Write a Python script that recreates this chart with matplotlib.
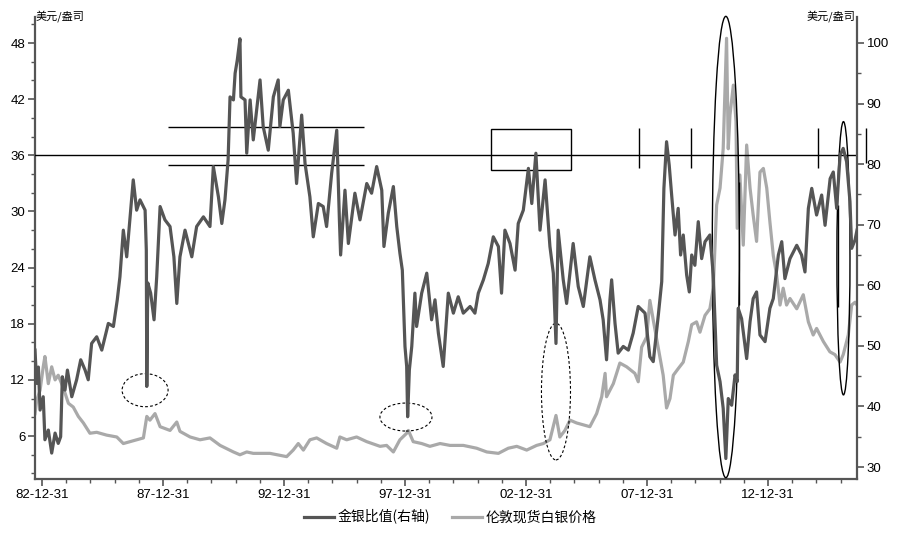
import matplotlib
matplotlib.use("Agg")
import matplotlib.pyplot as plt
from matplotlib.patches import Ellipse, Rectangle
from matplotlib.ticker import MultipleLocator, FixedLocator

plt.rcParams['font.family'] = ['Noto Sans CJK SC', 'DejaVu Sans']

# gold/silver ratio (right axis), decimal year
ratio_t = [1982.71, 1982.78, 1982.85, 1982.92, 1983.05, 1983.12, 1983.26, 1983.40, 1983.54, 1983.67,
           1983.77, 1983.84, 1983.95, 1984.05, 1984.23, 1984.43, 1984.60, 1984.78, 1984.91, 1985.05,
           1985.26, 1985.47, 1985.74, 1985.95, 1986.11, 1986.22, 1986.36, 1986.50, 1986.64, 1986.77,
           1986.91, 1987.05, 1987.26, 1987.31, 1987.33, 1987.37, 1987.49, 1987.63, 1987.74, 1987.88,
           1988.08, 1988.29, 1988.45, 1988.57, 1988.70, 1988.91, 1989.19, 1989.39, 1989.67, 1989.94,
           1990.08, 1990.29, 1990.43, 1990.56, 1990.69, 1990.77, 1990.91, 1990.98, 1991.07, 1991.18,
           1991.22, 1991.39, 1991.46, 1991.60, 1991.73, 1991.87, 1992.01, 1992.14, 1992.35, 1992.56,
           1992.76, 1992.83, 1992.97, 1993.18, 1993.38, 1993.52, 1993.73, 1993.87, 1994.07, 1994.21,
           1994.42, 1994.62, 1994.76, 1994.97, 1995.18, 1995.29, 1995.34, 1995.52, 1995.66, 1995.93,
           1996.14, 1996.42, 1996.62, 1996.83, 1997.04, 1997.13, 1997.31, 1997.52, 1997.66, 1997.79,
           1997.89, 1998.00, 1998.07, 1998.11, 1998.18, 1998.28, 1998.41, 1998.48, 1998.69, 1998.90,
           1999.10, 1999.24, 1999.38, 1999.58, 1999.79, 2000.00, 2000.20, 2000.41, 2000.69, 2000.89,
           2001.03, 2001.24, 2001.44, 2001.65, 2001.86, 2001.99, 2002.13, 2002.34, 2002.55, 2002.68,
           2002.89, 2003.10, 2003.24, 2003.41, 2003.58, 2003.79, 2003.99, 2004.13, 2004.24, 2004.33,
           2004.54, 2004.68, 2004.95, 2005.16, 2005.37, 2005.64, 2005.85, 2006.06, 2006.19, 2006.33,
           2006.47, 2006.54, 2006.68, 2006.81, 2007.02, 2007.23, 2007.43, 2007.64, 2007.92, 2008.12,
           2008.26, 2008.47, 2008.61, 2008.70, 2008.81, 2008.92, 2009.02, 2009.16, 2009.29, 2009.39,
           2009.50, 2009.64, 2009.75, 2009.85, 2009.98, 2010.12, 2010.26, 2010.40, 2010.60, 2010.74,
           2010.88, 2011.02, 2011.15, 2011.26, 2011.36, 2011.50, 2011.64, 2011.73, 2011.77, 2011.91,
           2012.12, 2012.26, 2012.39, 2012.53, 2012.67, 2012.88, 2013.08, 2013.22, 2013.43, 2013.57,
           2013.70, 2013.91, 2014.19, 2014.39, 2014.53, 2014.67, 2014.81, 2015.01, 2015.22, 2015.36,
           2015.57, 2015.70, 2015.84, 2015.98, 2016.11, 2016.25, 2016.39, 2016.46, 2016.60, 2016.68]
ratio_v = [49.3, 43.8, 46.5, 39.4, 41.6, 34.5, 36.1, 32.3, 35.6, 33.9,
           35.0, 44.9, 42.7, 46.0, 41.6, 44.4, 47.7, 46.0, 44.4, 50.4,
           51.5, 49.3, 53.7, 53.2, 57.6, 61.4, 69.1, 64.7, 71.3, 77.4,
           72.4, 74.1, 72.4, 65.8, 43.3, 60.4, 58.7, 54.3, 61.4, 73.0,
           70.8, 69.7, 64.7, 57.0, 64.7, 69.1, 64.7, 69.7, 71.3, 69.7,
           79.6, 74.6, 70.2, 74.1, 80.7, 91.1, 90.6, 95.0, 97.2, 100.7,
           91.1, 90.6, 81.8, 90.6, 84.0, 88.9, 93.9, 86.2, 82.3, 91.1,
           93.9, 86.2, 90.6, 92.2, 85.1, 76.8, 88.1, 80.1, 74.6, 68.0,
           73.5, 73.0, 69.7, 78.5, 85.6, 70.8, 65.0, 75.7, 66.9, 75.2,
           70.8, 76.8, 75.2, 79.6, 75.7, 66.4, 71.9, 76.3, 69.7, 65.3,
           62.5, 49.9, 46.6, 38.3, 46.0, 49.9, 58.7, 53.2, 58.7, 62.0,
           54.3, 57.6, 52.1, 46.6, 58.7, 55.4, 58.1, 55.4, 56.5, 55.4,
           58.7, 60.9, 63.6, 68.0, 66.4, 58.7, 69.1, 66.9, 62.5, 70.2,
           72.4, 79.3, 73.5, 81.8, 69.1, 77.4, 66.4, 62.0, 50.4, 69.1,
           60.9, 57.0, 66.9, 59.8, 56.5, 64.7, 60.9, 57.6, 54.3, 47.7,
           57.6, 60.9, 53.7, 48.8, 49.9, 49.3, 52.1, 56.5, 55.4, 48.2,
           47.4, 55.1, 60.6, 76.0, 83.7, 79.8, 74.9, 68.3, 72.7, 65.0,
           68.3, 61.7, 58.9, 65.0, 63.3, 70.5, 64.4, 67.2, 68.3, 61.7,
           46.8, 44.1, 39.7, 31.4, 41.3, 40.2, 45.2, 44.1, 56.2, 54.5,
           47.9, 54.0, 57.8, 58.9, 51.8, 50.7, 56.2, 57.8, 65.0, 67.2,
           61.1, 64.4, 66.6, 65.0, 62.2, 72.7, 76.0, 71.6, 74.9, 69.9,
           77.6, 78.7, 72.7, 81.5, 82.6, 80.4, 73.8, 66.1, 67.5, 69.1]

# London spot silver, USD/oz (left axis)
silver_t = [1982.71, 1982.78, 1982.92, 1983.05, 1983.12, 1983.26, 1983.40, 1983.54, 1983.67, 1983.81,
            1983.95, 1984.09, 1984.29, 1984.50, 1984.71, 1984.98, 1985.26, 1985.67, 1986.09, 1986.36,
            1986.64, 1987.19, 1987.33, 1987.46, 1987.67, 1987.88, 1988.29, 1988.57, 1988.70, 1989.12,
            1989.53, 1989.94, 1990.36, 1990.91, 1991.18, 1991.46, 1991.73, 1992.42, 1993.11, 1993.38,
            1993.59, 1993.80, 1994.07, 1994.35, 1994.76, 1995.18, 1995.31, 1995.59, 1996.00, 1996.42,
            1996.97, 1997.24, 1997.52, 1997.79, 1998.07, 1998.14, 1998.34, 1998.69, 1999.03, 1999.45,
            1999.86, 2000.41, 2000.96, 2001.38, 2001.86, 2002.27, 2002.62, 2003.03, 2003.44, 2003.72,
            2003.99, 2004.24, 2004.40, 2004.61, 2004.82, 2005.09, 2005.37, 2005.64, 2005.92, 2006.13,
            2006.27, 2006.33, 2006.61, 2006.88, 2007.16, 2007.50, 2007.64, 2007.78, 2007.99, 2008.12,
            2008.26, 2008.47, 2008.67, 2008.81, 2008.95, 2009.09, 2009.29, 2009.50, 2009.71, 2009.85,
            2010.05, 2010.19, 2010.40, 2010.60, 2010.74, 2010.88, 2011.02, 2011.15, 2011.29, 2011.36,
            2011.43, 2011.57, 2011.68, 2011.73, 2011.84, 2011.98, 2012.12, 2012.26, 2012.39, 2012.53,
            2012.67, 2012.81, 2012.95, 2013.08, 2013.22, 2013.36, 2013.50, 2013.63, 2013.77, 2013.91,
            2014.19, 2014.46, 2014.67, 2014.87, 2015.01, 2015.29, 2015.56, 2015.77, 2015.98, 2016.11,
            2016.32, 2016.46, 2016.60, 2016.68]
silver_v = [8.4, 9.8, 10.9, 13.4, 14.5, 11.6, 13.4, 12.0, 12.5, 11.6,
            10.6, 9.5, 9.1, 8.1, 7.4, 6.3, 6.4, 6.1, 5.9, 5.2,
            5.4, 5.8, 8.1, 7.7, 8.4, 7.0, 6.6, 7.5, 6.5, 5.9,
            5.6, 5.8, 5.0, 4.3, 4.0, 4.3, 4.15, 4.15, 3.8, 4.5,
            5.2, 4.5, 5.6, 5.8, 5.2, 4.7, 5.9, 5.6, 5.9, 5.4,
            4.9, 5.0, 4.3, 5.6, 6.3, 6.6, 5.4, 5.2, 4.9, 5.2,
            5.0, 5.0, 4.7, 4.3, 4.15, 4.7, 4.9, 4.5, 5.0, 5.2,
            5.6, 8.2, 5.9, 6.6, 7.7, 7.4, 7.2, 7.0, 8.4, 10.2,
            12.7, 10.2, 11.6, 13.8, 13.4, 12.7, 11.8, 15.5, 16.6, 20.5,
            18.4, 15.4, 12.5, 9.0, 10.0, 12.5, 13.2, 13.9, 16.1, 17.9,
            18.2, 17.1, 18.9, 19.6, 21.8, 30.7, 32.5, 36.7, 48.5, 36.7,
            40.3, 43.5, 39.6, 28.2, 33.9, 26.4, 37.1, 32.5, 29.6, 26.8,
            34.2, 34.6, 32.5, 28.9, 25.3, 23.2, 20.0, 21.8, 20.0, 20.7,
            19.6, 21.1, 18.2, 16.8, 17.5, 16.1, 15.0, 14.7, 13.9, 14.7,
            16.8, 20.0, 20.3, 20.0]

major_years = [1983, 1988, 1993, 1998, 2003, 2008, 2013]
major_labels = ["82-12-31", "87-12-31", "92-12-31", "97-12-31", "02-12-31", "07-12-31", "12-12-31"]
left_ticks = [6, 12, 18, 24, 30, 36, 42, 48]
right_ticks = [30, 40, 50, 60, 70, 80, 90, 100]

dark = "#555555"
light = "#a9a9a9"
spine_c = "#555555"
tick_font = dict(family=['Liberation Sans', 'DejaVu Sans'], size=9.5)

fig = plt.figure(figsize=(9, 5.35), dpi=100)
ax1 = fig.add_axes([35/900, 1-479/535, (857-35)/900, (479-17)/535])
ax2 = ax1.twinx()

l1, = ax1.plot(silver_t, silver_v, color=light, lw=2.3, label="伦敦现货白银价格")
l2, = ax2.plot(ratio_t, ratio_v, color=dark, lw=2.3, label="金银比值(右轴)")

ax1.set_xlim(1982.71, 2016.68)
ax1.set_ylim(1.41, 50.78)
ax2.set_ylim(28.02, 104.29)

ax1.xaxis.set_major_locator(FixedLocator(major_years))
ax1.set_xticklabels(major_labels, **tick_font)
ax1.xaxis.set_minor_locator(MultipleLocator(1))
ax1.set_yticks(left_ticks)
ax1.set_yticklabels([str(v) for v in left_ticks], **tick_font)
ax1.yaxis.set_minor_locator(MultipleLocator(2))
ax2.set_yticks(right_ticks)
ax2.set_yticklabels([str(v) for v in right_ticks], **tick_font)
ax2.yaxis.set_minor_locator(MultipleLocator(5))

for ax in (ax1, ax2):
    ax.spines['top'].set_visible(False)
    for s in ('left', 'right', 'bottom'):
        ax.spines[s].set_color(spine_c)
        ax.spines[s].set_linewidth(1.6)
    ax.tick_params(which='major', length=5, width=1.2, color=spine_c, pad=2)
    ax.tick_params(which='minor', length=3, width=1.0, color=spine_c)
ax1.spines['right'].set_visible(False)
ax2.spines['left'].set_visible(False)
ax2.spines['bottom'].set_visible(False)

# annotation marks (in silver-axis coordinates)
k = dict(color="black", lw=1.0, zorder=5)
ax1.axhline(36, **k)
ax1.hlines([39, 35], 1988.2, 1996.3, **k)
ax1.add_patch(Rectangle((2001.55, 34.4), 3.31, 4.4, fill=False, ec="black", lw=1.0, zorder=5))
ax1.vlines([2007.67, 2009.82, 2015.07], 34.6, 38.9, **k)
ax1.vlines(2017.05, 35.2, 38.9, clip_on=False, **k)
ax1.vlines(2015.89, 19.8, 30.7, **k)
ax1.vlines(2011.80, 20.0, 33.1, **k)

dash = dict(fill=False, ec="black", lw=0.8, ls=(0, (2.5, 2)), zorder=5)
ax1.add_patch(Ellipse((1987.26, 10.9), 1.90, 3.53, **dash))
ax1.add_patch(Ellipse((1998.04, 8.03), 2.15, 2.99, **dash))
ax1.add_patch(Ellipse((2004.24, 10.75), 1.20, 14.6, **dash))
solid = dict(fill=False, ec="black", lw=1.0, zorder=5, clip_on=False)
ax1.add_patch(Ellipse((2011.26, 26.2), 1.12, 49.3, **solid))
ax1.add_patch(Ellipse((2016.12, 25.0), 0.54, 29.2, **solid))

fig.text(36/900, 1-16/535, "美元/盎司", fontsize=8, va='center', ha='left')
fig.text(855/900, 1-16/535, "美元/盎司", fontsize=8, va='center', ha='right')

fig.legend([l2, l1], [l2.get_label(), l1.get_label()], loc='center', bbox_to_anchor=(0.5, 1-517/535),
           ncol=2, frameon=False, fontsize=10, handlelength=2.2, columnspacing=1.6, handletextpad=0.2)

fig.savefig("out.png", dpi=100)
